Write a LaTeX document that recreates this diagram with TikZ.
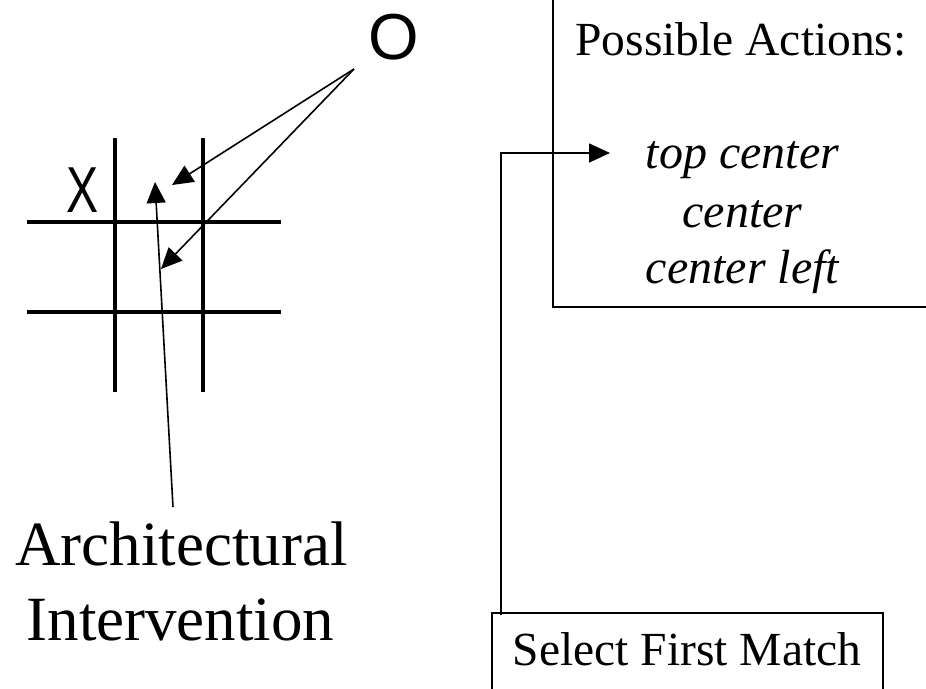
\documentclass[tikz,border=0pt]{standalone}
\usepackage{fontspec}
\setmainfont{Liberation Serif}
\newfontfamily\markfont{Liberation Sans}
\usetikzlibrary{arrows.meta}
\tikzset{
  gridline/.style={line width=4pt},
  boxline/.style={draw, line width=2pt, inner sep=0pt},
  pointer/.style={line width=1.6pt, -{Triangle[length=21pt,width=19pt]}},
  bigtext/.style={font=\fontsize{63}{75}\selectfont, anchor=base, inner sep=0pt},
  boxtext/.style={font=\fontsize{47.5}{57}\selectfont, anchor=base, inner sep=0pt},
  actiontext/.style={font=\fontsize{48}{57}\selectfont\itshape, anchor=base, inner sep=0pt},
  marktext/.style={font=\fontsize{65}{70}\selectfont\markfont, anchor=base, inner sep=0pt}
}
\begin{document}
\begin{tikzpicture}[x=1pt, y=-1pt]
  \clip (0,0) rectangle (926,688);
  \fill[white] (0,0) rectangle (926,688);

  % tic-tac-toe board
  \draw[gridline] (115,138) -- (115,392);
  \draw[gridline] (203,138) -- (203,392);
  \draw[gridline] (27,222) -- (281,222);
  \draw[gridline] (27,312) -- (281,312);

  % marks
  \node[marktext] (xmark) at (83,212) {\scalebox{0.74}[1]{X}};
  \node[marktext] (omark) at (394,59) {O};
  \coordinate (ofoot) at (354,69);
  \coordinate (otop) at (172,185);
  \coordinate (ocenter) at (161,269);

  % intervention label
  \node[bigtext] (arch) at (181.5,565) {Architectural};
  \node[bigtext] (interv) at (180.5,640) {Intervention};
  \coordinate (archfoot) at (173,507);
  \coordinate (archtip) at (155,182);

  % possible actions box
  \node[boxline, minimum width=420pt, minimum height=340pt] (actions) at (763,137) {};
  \node[boxtext] (acttitle) at (741,55) {Possible Actions:};
  \node[actiontext] (act1) at (742.5,168) {top center};
  \node[actiontext] (act2) at (742.5,227) {center};
  \node[actiontext] (act3) at (742.5,283) {center left};
  \coordinate (actin) at (610,153);

  % selection box
  \node[boxline, minimum width=391pt, minimum height=120pt] (select) at (687.5,673) {};
  \node[boxtext] (seltext) at (687,665) {Select First Match};
  \coordinate (selout) at (501,615);

  % connectors
  \draw[pointer] (ofoot) -- (otop);
  \draw[pointer] (ofoot) -- (ocenter);
  \draw[pointer] (archfoot) -- (archtip);
  \draw[pointer] (selout) |- (actin);
\end{tikzpicture}
\end{document}
